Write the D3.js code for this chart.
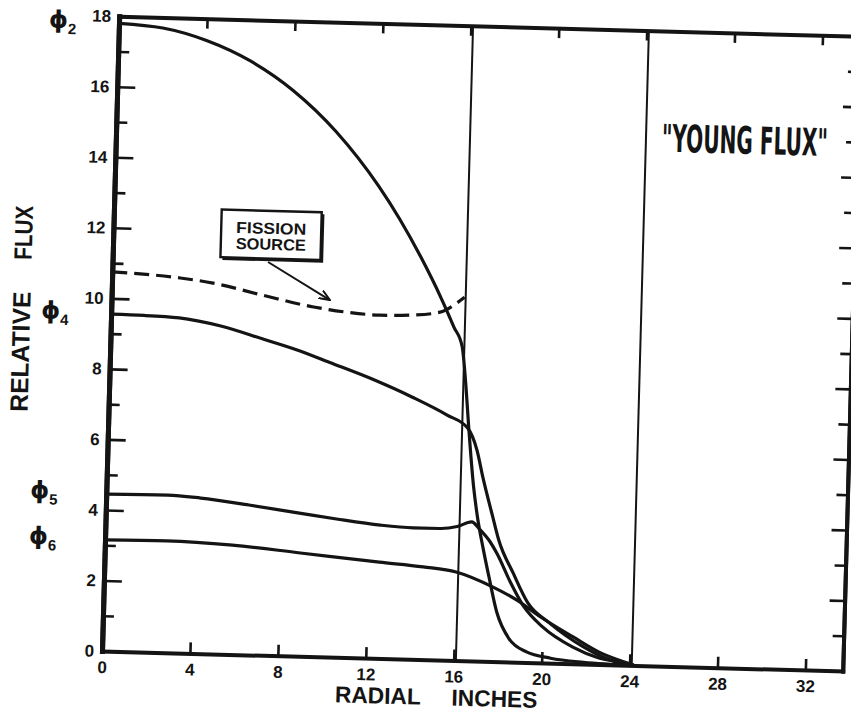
<!DOCTYPE html>
<html>
<head>
<meta charset="utf-8">
<script src="https://cdn.jsdelivr.net/npm/d3@7"></script>
<style>
  body { margin: 0; background: #fff; }
  svg { display: block; font-family: "Liberation Sans", Arial, sans-serif; }
</style>
</head>
<body>
<svg width="851" height="715"></svg>
<script>
const width = 851;
const height = 715;
const ink = "#141414";

// radial distance (inches) / relative flux
const phi2X = [0, 2, 4, 6, 8, 10, 12, 13, 14, 15, 15.6, 16.0, 16.2, 16.4, 16.7, 16.9, 17.2, 17.5, 17.9, 18.5, 19.3, 20.4, 21.9, 24.2];
const phi2Y = [17.8, 17.7, 17.38, 16.84, 16.03, 14.9, 13.39, 12.47, 11.42, 10.24, 9.45, 8.9, 7.9, 6.6, 4.9, 4.1, 3.2, 2.4, 1.4, 0.65, 0.3, 0.14, 0.05, 0];

const phi4X = [0, 1.5, 3.1, 5, 7, 8.5, 10, 12, 13.8, 15.4, 16.35, 16.8, 17.1, 17.6, 17.9, 18.6, 19.3, 20.3, 21.9, 23.4, 24.2];
const phi4Y = [9.55, 9.54, 9.5, 9.3, 8.95, 8.68, 8.35, 7.9, 7.43, 6.95, 6.6, 5.98, 5.22, 4.1, 3.45, 2.52, 1.69, 1.14, 0.48, 0.08, 0];

const phi5X = [0, 2.8, 4.3, 6.5, 8.8, 10.5, 12.5, 14, 15.2, 16.0, 16.65, 17.0, 17.5, 17.85, 18.45, 19.1, 20.0, 21.4, 22.6, 23.9, 24.2];
const phi5Y = [4.45, 4.47, 4.41, 4.25, 4.06, 3.92, 3.78, 3.73, 3.73, 3.8, 3.94, 3.75, 3.4, 3.05, 2.3, 1.6, 1.02, 0.47, 0.18, 0.05, 0];

const phi6X = [0, 2.8, 5.8, 8.9, 12.5, 14.5, 16.0, 17.7, 18.8, 19.9, 21.4, 22.6, 23.9, 24.2];
const phi6Y = [3.15, 3.17, 3.1, 2.93, 2.73, 2.63, 2.51, 2.11, 1.76, 1.3, 0.76, 0.35, 0.06, 0];

const fissionX = [0, 3.1, 4.6, 6.9, 9.2, 10.7, 12.2, 13.7, 14.95, 15.7, 16.05];
const fissionY = [10.75, 10.63, 10.51, 10.2, 9.91, 9.79, 9.73, 9.76, 9.86, 10.13, 10.3];

const xTicks = [0, 4, 8, 12, 16, 20, 24, 28, 32];
const yTicks = [0, 2, 4, 6, 8, 10, 12, 14, 16, 18];
const yMinorTicks = [1, 3, 5, 7, 9, 11, 13, 15, 17];
const boundaries = [16.1, 24.1];
const curveNames = ["2", "4", "5", "6"];

const xMax = 33.7;
const yMax = 18;

const svg = d3.select("svg");
svg.append("rect").attr("width", width).attr("height", height).attr("fill", "#fff");

const x = d3.scaleLinear().domain([0, xMax]).range([0, 741]);
const y = d3.scaleLinear().domain([0, yMax]).range([0, -635]);

// the scanned page is slightly skewed
const plot = svg
  .append("g")
  .attr("transform", "translate(102,651) rotate(1.55)")
  .attr("color", ink);

const styleAxis = (g, w) => {
  g.attr("font-family", null).attr("font-size", null);
  g.select(".domain").attr("stroke-width", w).attr("stroke-linecap", "square");
  g.selectAll(".tick line").attr("stroke-width", 2.6);
  g.selectAll(".tick text")
    .attr("font-size", 17)
    .attr("font-weight", "bold");
};

plot
  .append("g")
  .call(d3.axisBottom(x).tickValues(xTicks).tickSize(-11).tickSizeOuter(0).tickPadding(10))
  .call(g => styleAxis(g, 4));

plot
  .append("g")
  .attr("transform", `translate(0,${y(yMax)})`)
  .call(d3.axisTop(x).tickValues(xTicks.slice(1)).tickSize(-10).tickSizeOuter(0).tickFormat(""))
  .call(g => styleAxis(g, 4));

plot
  .append("g")
  .call(d3.axisLeft(y).tickValues(yMinorTicks).tickSize(-11).tickSizeOuter(0).tickFormat(""))
  .call(g => styleAxis(g, 5));

plot
  .append("g")
  .call(d3.axisLeft(y).tickValues(yTicks).tickSize(-18).tickSizeOuter(0).tickPadding(8))
  .call(g => styleAxis(g, 5));

plot
  .append("g")
  .attr("transform", `translate(${x(xMax)},0)`)
  .call(d3.axisRight(y).tickValues(yMinorTicks).tickSize(-11).tickSizeOuter(0).tickFormat(""))
  .call(g => styleAxis(g, 4));

plot
  .append("g")
  .attr("transform", `translate(${x(xMax)},0)`)
  .call(d3.axisRight(y).tickValues(yTicks.slice(1, -1)).tickSize(-15).tickSizeOuter(0).tickFormat(""))
  .call(g => styleAxis(g, 4));

// core / reflector boundaries
plot
  .append("g")
  .selectAll("line")
  .data(boundaries)
  .enter()
  .append("line")
  .attr("x1", d => x(d))
  .attr("x2", d => x(d))
  .attr("y1", y(0))
  .attr("y2", y(yMax))
  .attr("stroke", ink)
  .attr("stroke-width", 2);

const line = d3
  .line()
  .x(d => x(d[0]))
  .y(d => y(d[1]))
  .curve(d3.curveMonotoneX);

const curves = [
  d3.zip(phi2X, phi2Y),
  d3.zip(phi4X, phi4Y),
  d3.zip(phi5X, phi5Y),
  d3.zip(phi6X, phi6Y)
];

plot
  .append("g")
  .selectAll("path")
  .data(curves)
  .enter()
  .append("path")
  .attr("d", line)
  .attr("fill", "none")
  .attr("stroke", ink)
  .attr("stroke-width", 3.2)
  .attr("stroke-linejoin", "round");

plot
  .append("path")
  .attr("d", line(d3.zip(fissionX, fissionY)))
  .attr("fill", "none")
  .attr("stroke", ink)
  .attr("stroke-width", 3.2)
  .attr("stroke-dasharray", "15,7");

// phi labels next to the start of each curve
const phiLabel = plot
  .append("g")
  .selectAll("text")
  .data(curves)
  .enter()
  .append("text")
  .attr("x", (_, i) => (i < 2 ? -70 : -76))
  .attr("y", d => y(d[0][1]) + 6)
  .attr("font-family", "DejaVu Sans, sans-serif")
  .attr("font-weight", "bold")
  .attr("font-size", 24)
  .attr("fill", ink)
  .text("\u03D5");

phiLabel
  .append("tspan")
  .attr("dy", 6)
  .attr("font-size", 15)
  .attr("font-weight", "bold")
  .attr("font-family", "Liberation Sans, sans-serif")
  .text((_, i) => curveNames[i]);

// FISSION SOURCE callout
const box = { x0: 4.9, x1: 9.45, y0: 12.6, y1: 11.25 };
plot
  .append("rect")
  .attr("x", x(box.x0))
  .attr("y", y(box.y0))
  .attr("width", x(box.x1) - x(box.x0))
  .attr("height", y(box.y1) - y(box.y0))
  .attr("fill", "#fff")
  .attr("stroke", ink)
  .attr("stroke-width", 2.4);

plot
  .append("polyline")
  .attr("points", [
    [x(box.x0) + 2, y(box.y1) + 1.5],
    [x(box.x1) + 1.5, y(box.y1) + 1.5],
    [x(box.x1) + 1.5, y(box.y0) + 2]
  ].join(" "))
  .attr("fill", "none")
  .attr("stroke", ink)
  .attr("stroke-width", 2.5);

plot
  .append("g")
  .selectAll("text")
  .data(["FISSION", "SOURCE"])
  .enter()
  .append("text")
  .attr("x", x((box.x0 + box.x1) / 2))
  .attr("y", (_, i) => y(box.y0) + 23 + i * 16)
  .attr("text-anchor", "middle")
  .attr("font-size", 16)
  .attr("font-weight", "bold")
  .attr("textLength", 70)
  .attr("lengthAdjust", "spacingAndGlyphs")
  .attr("fill", ink)
  .text(d => d);

svg
  .append("defs")
  .append("marker")
  .attr("id", "arrow")
  .attr("viewBox", "0 0 12 10")
  .attr("refX", 11)
  .attr("refY", 5)
  .attr("markerWidth", 12)
  .attr("markerHeight", 10)
  .attr("markerUnits", "userSpaceOnUse")
  .attr("orient", "auto")
  .append("path")
  .attr("d", "M0,0.5L11,5L0,9.5")
  .attr("fill", "none")
  .attr("stroke", ink)
  .attr("stroke-width", 2);

plot
  .append("line")
  .attr("x1", x(7.07))
  .attr("y1", y(11.15))
  .attr("x2", x(9.93))
  .attr("y2", y(10.12))
  .attr("stroke", ink)
  .attr("stroke-width", 2)
  .attr("marker-end", "url(#arrow)");

// title: condensed lettering, squeezed to the scanned width
const title = plot
  .append("g")
  .attr("transform", `translate(${x(28.6)},${y(14.97)})`)
  .append("text")
  .attr("dy", "0.36em")
  .attr("text-anchor", "middle")
  .attr("font-family", "DejaVu Sans Condensed, Liberation Sans Narrow, DejaVu Sans, sans-serif")
  .style("font-stretch", "condensed")
  .attr("font-weight", "bold")
  .attr("font-size", 38)
  .attr("fill", ink)
  .text("\"YOUNG FLUX\"");
const titleWidth = title.node().getComputedTextLength();
title.attr("transform", `scale(${Math.min(1, 166 / titleWidth)},1)`);

const xTitle = [
  { text: "RADIAL", at: 12.6, w: 86 },
  { text: "INCHES", at: 17.9, w: 86 }
];
plot
  .append("g")
  .selectAll("text")
  .data(xTitle)
  .enter()
  .append("text")
  .attr("x", d => x(d.at))
  .attr("y", 45)
  .attr("text-anchor", "middle")
  .attr("font-size", 23)
  .attr("font-weight", "bold")
  .attr("textLength", d => d.w)
  .attr("lengthAdjust", "spacingAndGlyphs")
  .attr("fill", ink)
  .text(d => d.text);

const yTitle = [
  { text: "RELATIVE", at: -297, w: 120 },
  { text: "FLUX", at: -416, w: 54 }
];
plot
  .append("g")
  .selectAll("text")
  .data(yTitle)
  .enter()
  .append("text")
  .attr("transform", d => `translate(-90,${d.at}) rotate(-90)`)
  .attr("text-anchor", "middle")
  .attr("dy", "0.36em")
  .attr("font-size", 25)
  .attr("font-weight", "bold")
  .attr("textLength", d => d.w)
  .attr("lengthAdjust", "spacingAndGlyphs")
  .attr("fill", ink)
  .text(d => d.text);
</script>
</body>
</html>
